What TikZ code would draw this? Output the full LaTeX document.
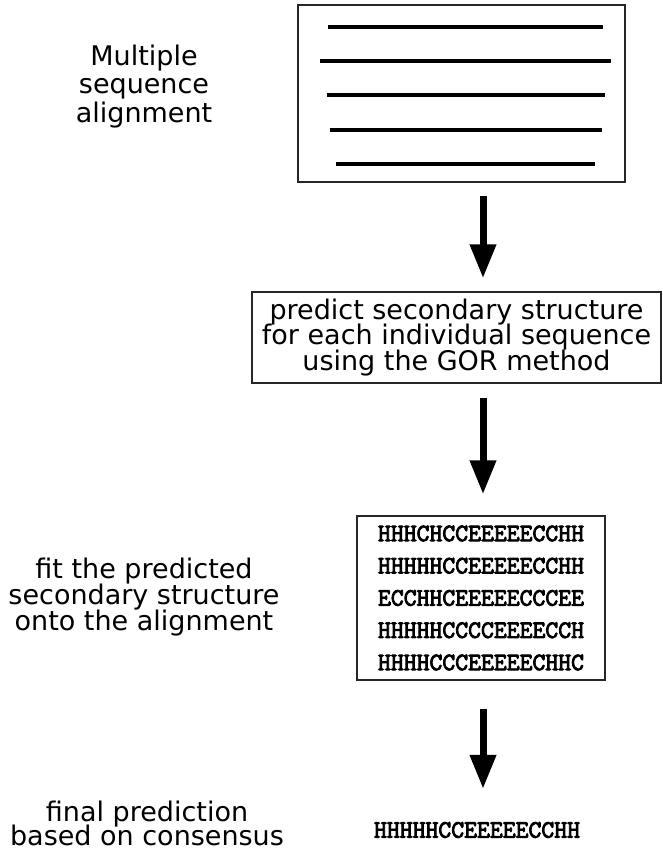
\documentclass[tikz,border=0pt]{standalone}
\usepackage{fontspec}
\setmainfont{DejaVu Sans}
\newfontfamily\seqfont{Latin Modern Mono}[FakeBold=3.5]
\usetikzlibrary{arrows.meta}

\tikzset{
  frame/.style={draw=black!85, line width=1.5pt, inner sep=0pt},
  steplabel/.style={align=center, inner sep=0pt,
    font={\fontsize{27}{#1}\selectfont\lineskiplimit-100pt}},
  seqtext/.style={align=center, inner sep=0pt,
    font={\seqfont\fontsize{25}{32.25}\selectfont\lineskiplimit-100pt}},
  flowarrow/.style={line width=7pt, -{Triangle[width=25pt,length=34pt]}},
  seqbar/.style={line width=4pt}
}

\begin{document}
\begin{tikzpicture}[x=1pt, y=-1pt]
\useasboundingbox (0,0) rectangle (663,856);

% ── Alineamiento multiple ─────────────────────────────────────
\node[frame, minimum width=327pt, minimum height=177pt] (msa) at (461.5,93.5) {};
% barras de secuencia: x inicio / x fin / y
\foreach \xa/\xb/\yy in {328/603/27, 320/611/61, 327/605/95, 330/602/130, 336/595/164}
  \draw[seqbar] (\xa,\yy) -- (\xb,\yy);
\node[steplabel=28.5] (msalbl) at (144,86.5) {Multiple\\sequence\\alignment};

% ── Prediccion GOR ────────────────────────────────────────────
\node[frame, steplabel=25.5, minimum width=409pt, minimum height=91pt] (gor) at (456.5,337.5)
  {predict secondary structure\\for each individual sequence\\using the GOR method};

% ── Estructura sobre el alineamiento ──────────────────────────
\node[frame, seqtext, minimum width=248pt, minimum height=164pt] (seqs) at (481,598)
  {HHHCHCCEEEEECCHH\\HHHHHCCEEEEECCHH\\ECCHHCEEEEECCCEE\\HHHHHCCCCEEEECCH\\HHHHCCCEEEEECHHC};
\node[steplabel=26] (fitlbl) at (144,597)
  {fit the predicted\\secondary structure\\onto the alignment};

% ── Consenso ──────────────────────────────────────────────────
\node[seqtext] (final) at (477,830) {HHHHHCCEEEEECCHH};
\node[steplabel=24.5] (finallbl) at (147,823.5) {final prediction\\based on consensus};

% ── Flechas ───────────────────────────────────────────────────
\coordinate (arrx) at (483,0);
\draw[flowarrow, shorten <=13pt, shorten >=13pt] (msa.south -| arrx) -- (gor.north -| arrx);
\draw[flowarrow, shorten <=14pt, shorten >=21pt] (gor.south -| arrx) -- (seqs.north -| arrx);
\draw[flowarrow, shorten <=28pt, shorten >=33pt] (seqs.south -| arrx) -- (final.north -| arrx);

\end{tikzpicture}
\end{document}
